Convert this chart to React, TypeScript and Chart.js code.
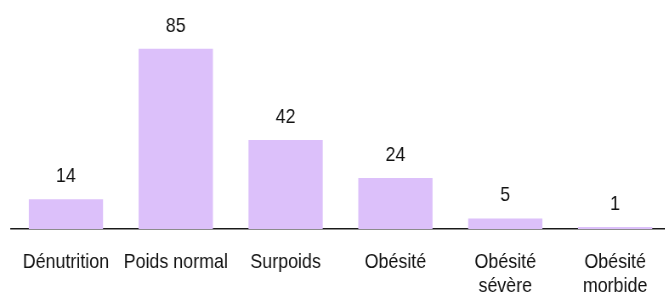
import React, { useEffect, useRef } from "react";
import { Chart, registerables } from "chart.js";

Chart.register(...registerables);

const categories: (string | string[])[] = [
  "Dénutrition",
  "Poids normal",
  "Surpoids",
  "Obésité",
  ["Obésité", "sévère"],
  ["Obésité", "morbide"],
];
const counts: number[] = [14, 85, 42, 24, 5, 1];

const FONT_FAMILY = "'Liberation Sans', Arial, sans-serif";

// The reference uses a narrow face; the canvas is drawn wider than it is shown
// so its text appears horizontally condensed like the original.
const SQUEEZE = 0.85;
const SHOWN_W = 680;
const SHOWN_H = 319;
const DRAW_W = Math.round(SHOWN_W / SQUEEZE);

const valueLabels = {
  id: "valueLabels",
  afterDatasetsDraw(chart: any) {
    const ctx = chart.ctx;
    const meta = chart.getDatasetMeta(0);
    const data = chart.data.datasets[0].data as number[];
    ctx.save();
    ctx.font = `21px ${FONT_FAMILY}`;
    ctx.fillStyle = "#111111";
    ctx.textAlign = "center";
    ctx.textBaseline = "alphabetic";
    meta.data.forEach((el: any, i: number) => {
      ctx.fillText(String(data[i]), el.x, el.y - 17);
    });
    ctx.restore();
  },
};

export default function App() {
  const ref = useRef<HTMLCanvasElement | null>(null);
  useEffect(() => {
    if (!ref.current) return;
    const chart = new Chart(ref.current, {
      type: "bar",
      data: {
        labels: categories,
        datasets: [
          {
            data: counts,
            backgroundColor: "#dcc0fa",
            borderWidth: 0,
            barPercentage: 0.676,
            categoryPercentage: 1,
          },
        ],
      },
      options: {
        responsive: false,
        animation: false,
        devicePixelRatio: 1,
        layout: {
          padding: { left: 11 / SQUEEZE, right: 10 / SQUEEZE, top: 0, bottom: 0 },
        },
        plugins: {
          legend: { display: false },
          tooltip: { enabled: false },
        },
        scales: {
          x: {
            offset: true,
            grid: { display: false, drawTicks: false },
            border: { display: true, color: "#1a1a1a", width: 1.5 },
            ticks: {
              color: "#111111",
              font: { family: FONT_FAMILY, size: 21, lineHeight: 24 / 21 } as any,
              padding: 21,
              maxRotation: 0,
              autoSkip: false,
            },
          },
          y: {
            display: false,
            min: 0,
            max: 108,
          },
        },
      },
      plugins: [valueLabels],
    });
    return () => chart.destroy();
  }, []);
  return (
    <div
      style={{
        position: "absolute",
        left: 0,
        top: 0,
        width: 665,
        height: 293,
        overflow: "hidden",
        background: "#ffffff",
      }}
    >
      <canvas
        ref={ref}
        width={DRAW_W}
        height={SHOWN_H}
        style={{ display: "block", width: `${SHOWN_W}px`, height: `${SHOWN_H}px` }}
      />
    </div>
  );
}
